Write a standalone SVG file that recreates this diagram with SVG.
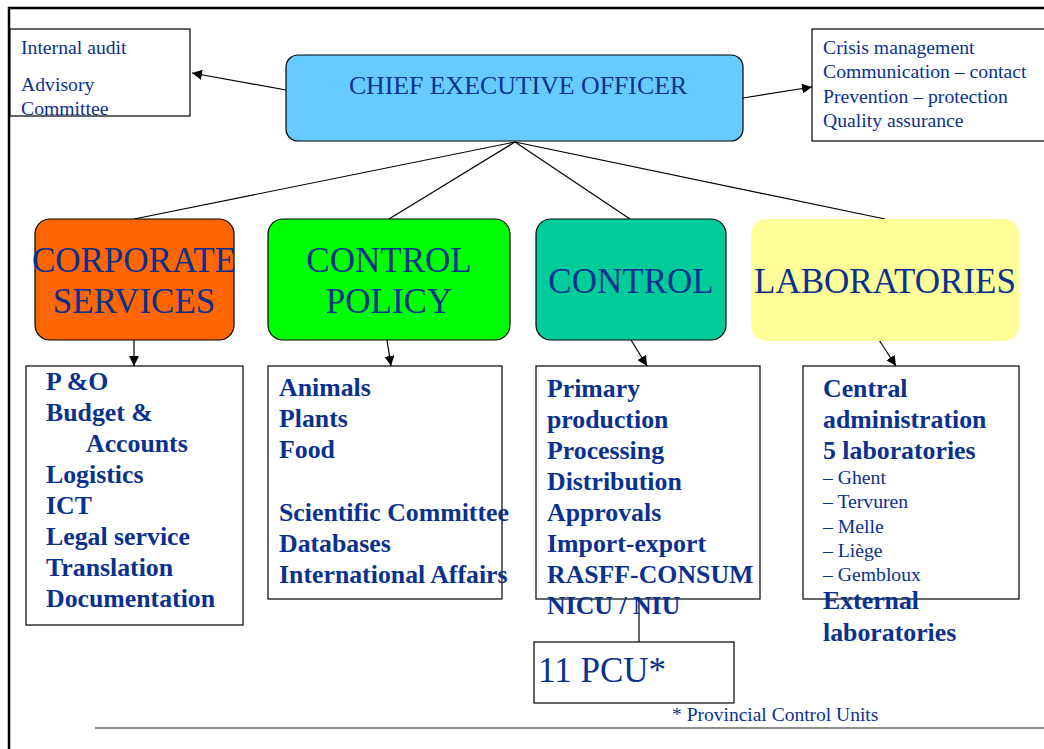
<svg xmlns="http://www.w3.org/2000/svg" width="1044" height="749" viewBox="0 0 1044 749">
<defs>
<style>
.t{font-family:"Liberation Serif","Times New Roman",serif;fill:#0b318f}
.r{font-size:19.7px}
.b{font-size:25.8px;font-weight:bold}
.big{font-size:35px}
.box{fill:#fff;stroke:#000;stroke-width:1.2}
.ln{stroke:#000;stroke-width:1.2;fill:none}
</style>
<marker id="ah" viewBox="0 0 10 10" refX="10" refY="5" markerWidth="10" markerHeight="10" markerUnits="userSpaceOnUse" orient="auto">
<path d="M0,0 L10,5 L0,10 z" fill="#000"/>
</marker>
</defs>
<rect width="1044" height="749" fill="#fff"/>
<g id="frame">
<line x1="8" y1="8" x2="1044" y2="8" stroke="#000" stroke-width="2.5"/>
<line x1="9" y1="7" x2="9" y2="749" stroke="#000" stroke-width="2.5"/>
<line x1="95" y1="728" x2="1044" y2="728" stroke="#666" stroke-width="1.5"/>
</g>
<g id="connectors">
<line class="ln" x1="286" y1="90" x2="192" y2="73" marker-end="url(#ah)"/>
<line class="ln" x1="743" y1="98" x2="812" y2="87" marker-end="url(#ah)"/>
<line class="ln" x1="515" y1="142" x2="134" y2="219"/>
<line class="ln" x1="515" y1="142" x2="389" y2="219"/>
<line class="ln" x1="515" y1="142" x2="630" y2="219"/>
<line class="ln" x1="515" y1="142" x2="885" y2="219"/>
<line class="ln" x1="134" y1="340" x2="134" y2="366" marker-end="url(#ah)"/>
<line class="ln" x1="387" y1="340" x2="391" y2="366" marker-end="url(#ah)"/>
<line class="ln" x1="631" y1="340" x2="647" y2="366" marker-end="url(#ah)"/>
<line class="ln" x1="879" y1="340" x2="896" y2="366" marker-end="url(#ah)"/>
<line class="ln" x1="639" y1="599" x2="639" y2="642"/>
</g>
<g id="audit">
<rect class="box" x="10" y="29" width="180" height="87"/>
<text class="t r" x="21" y="54">Internal audit</text>
<text class="t r" x="21" y="91">Advisory</text>
<text class="t r" x="21" y="115">Committee</text>
</g>
<g id="ceo">
<rect x="286" y="55" width="457" height="86" rx="12" fill="#66ccff" stroke="#000" stroke-width="1.2"/>
<text class="t" x="518" y="94" font-size="25.8" text-anchor="middle">CHIEF EXECUTIVE OFFICER</text>
</g>
<g id="crisis">
<rect class="box" x="812" y="29" width="240" height="112"/>
<text class="t r" x="823" y="54">Crisis management</text>
<text class="t r" x="823" y="78">Communication – contact</text>
<text class="t r" x="823" y="103">Prevention – protection</text>
<text class="t r" x="823" y="127">Quality assurance</text>
</g>
<g id="corporate">
<rect x="35" y="219" width="199" height="121" rx="15" fill="#ff6600" stroke="#000" stroke-width="1.2"/>
<text class="t big" x="134" y="272" text-anchor="middle">CORPORATE</text>
<text class="t big" x="134" y="313" text-anchor="middle">SERVICES</text>
</g>
<g id="controlpolicy">
<rect x="268" y="219" width="242" height="121" rx="15" fill="#00ff00" stroke="#000" stroke-width="1.2"/>
<text class="t big" x="389" y="272" text-anchor="middle">CONTROL</text>
<text class="t big" x="389" y="313" text-anchor="middle">POLICY</text>
</g>
<g id="control">
<rect x="536" y="219" width="190" height="121" rx="15" fill="#00cc99" stroke="#000" stroke-width="1.2"/>
<text class="t big" x="631" y="293" text-anchor="middle">CONTROL</text>
</g>
<g id="laboratories">
<rect x="751" y="219" width="268" height="122" rx="15" fill="#ffff99"/>
<text class="t big" x="885" y="293" text-anchor="middle">LABORATORIES</text>
</g>
<g id="corporate-list">
<rect class="box" x="26" y="366" width="217" height="259"/>
<text class="t b" x="46" y="390">P &amp;O</text>
<text class="t b" x="46" y="421">Budget &amp;</text>
<text class="t b" x="86" y="452">Accounts</text>
<text class="t b" x="46" y="483">Logistics</text>
<text class="t b" x="46" y="514">ICT</text>
<text class="t b" x="46" y="545">Legal service</text>
<text class="t b" x="46" y="576">Translation</text>
<text class="t b" x="46" y="607">Documentation</text>
</g>
<g id="policy-list">
<rect class="box" x="268" y="366" width="234" height="233"/>
<text class="t b" x="279" y="396">Animals</text>
<text class="t b" x="279" y="427">Plants</text>
<text class="t b" x="279" y="458">Food</text>
<text class="t b" x="279" y="521">Scientific Committee</text>
<text class="t b" x="279" y="552">Databases</text>
<text class="t b" x="279" y="583">International Affairs</text>
</g>
<g id="control-list">
<rect class="box" x="536" y="366" width="224" height="233"/>
<text class="t b" x="547" y="397">Primary</text>
<text class="t b" x="547" y="428">production</text>
<text class="t b" x="547" y="459">Processing</text>
<text class="t b" x="547" y="490">Distribution</text>
<text class="t b" x="547" y="521">Approvals</text>
<text class="t b" x="547" y="552">Import-export</text>
<text class="t b" x="547" y="583">RASFF-CONSUM</text>
<text class="t b" x="547" y="614">NICU / NIU</text>
</g>
<g id="labs-list">
<rect class="box" x="803" y="366" width="216" height="233"/>
<text class="t b" x="823" y="397">Central</text>
<text class="t b" x="823" y="428">administration</text>
<text class="t b" x="823" y="459">5 laboratories</text>
<text class="t r" x="823" y="484">– Ghent</text>
<text class="t r" x="823" y="508">– Tervuren</text>
<text class="t r" x="823" y="533">– Melle</text>
<text class="t r" x="823" y="557">– Liège</text>
<text class="t r" x="823" y="581">– Gembloux</text>
<text class="t b" x="823" y="609">External</text>
<text class="t b" x="823" y="641">laboratories</text>
</g>
<g id="pcu">
<rect class="box" x="534" y="642" width="200" height="61"/>
<text class="t" x="538" y="682" font-size="35">11 PCU*</text>
</g>
<g id="footnote">
<text class="t" x="672" y="721" font-size="19.5">* Provincial Control Units</text>
</g>
</svg>
